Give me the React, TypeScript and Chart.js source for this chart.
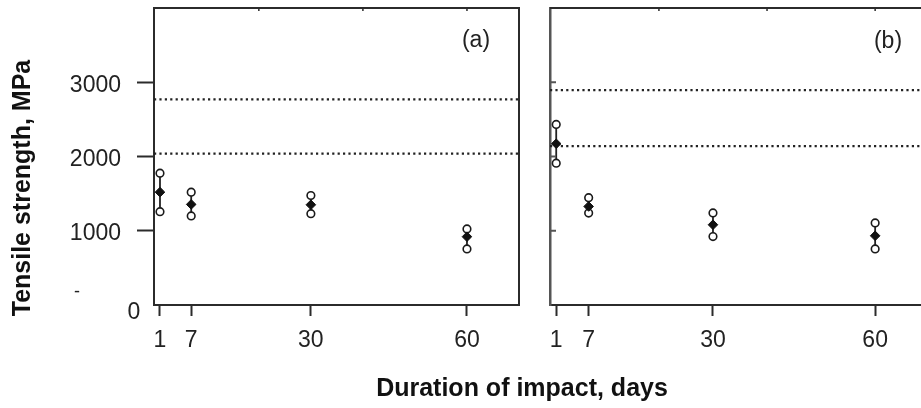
import React, { useEffect, useRef } from "react";
import { Chart, registerables } from "chart.js";

Chart.register(...registerables);

// ---------- data ----------
const days = [1, 7, 30, 60];

const upperA = [1775, 1520, 1475, 1025];
const meanA = [1520, 1355, 1350, 920];
const lowerA = [1257, 1200, 1230, 755];
const refA = [2770, 2040];

const upperB = [2432, 1445, 1240, 1105];
const meanB = [2172, 1327, 1081, 932];
const lowerB = [1910, 1238, 922, 755];
const refB = [2895, 2140];

const yTickValues = [1000, 2000, 3000];
const topTickValues = [20, 40, 60];
const X_MIN = -0.15;
const X_MAX = 70;
const Y_MIN = 0;
const Y_MAX = 4000;

const FONT = "'Liberation Sans', Arial, Helvetica, sans-serif";
const AXIS = "#2b2b2b";

function buildDatasets(upper: number[], mean: number[], lower: number[], ref: number[]) {
  const bars: { x: number; y: number | null }[] = [];
  days.forEach((d, i) => {
    bars.push({ x: d, y: lower[i] }, { x: d, y: upper[i] }, { x: d, y: null });
  });
  return [
    {
      label: "mean",
      data: days.map((d, i) => ({ x: d, y: mean[i] })),
      pointStyle: "rectRot",
      pointRadius: 4.8,
      backgroundColor: "#111",
      borderColor: "#111",
      borderWidth: 1,
      order: 0,
    },
    {
      label: "upper",
      data: days.map((d, i) => ({ x: d, y: upper[i] })),
      pointStyle: "circle",
      pointRadius: 3.8,
      backgroundColor: "#fff",
      borderColor: "#1a1a1a",
      borderWidth: 1.6,
      order: 1,
    },
    {
      label: "lower",
      data: days.map((d, i) => ({ x: d, y: lower[i] })),
      pointStyle: "circle",
      pointRadius: 3.8,
      backgroundColor: "#fff",
      borderColor: "#1a1a1a",
      borderWidth: 1.6,
      order: 1,
    },
    {
      label: "range",
      data: bars,
      showLine: true,
      spanGaps: false,
      borderColor: "#222",
      borderWidth: 1.8,
      pointRadius: 0,
      order: 2,
    },
    ...ref.map((v, k) => ({
      label: "ref" + k,
      data: [
        { x: X_MIN, y: v },
        { x: X_MAX, y: v },
      ],
      showLine: true,
      borderColor: "#222",
      borderWidth: 2.2,
      borderDash: [2.2, 3.2],
      pointRadius: 0,
      order: 3,
    })),
  ];
}

function xScaleConfig() {
  return {
    type: "linear",
    min: X_MIN,
    max: X_MAX,
    afterBuildTicks: (s: any) => {
      s.ticks = days.map((v) => ({ value: v }));
    },
    afterFit: (s: any) => {
      s.height = 103;
      s.paddingLeft = 0;
      s.paddingRight = 0;
    },
    grid: { drawOnChartArea: false, drawTicks: true, tickLength: 11, tickWidth: 2, color: AXIS },
    border: { display: true, width: 2, color: AXIS },
    ticks: {
      font: { family: FONT, size: 23 },
      color: "#222",
      padding: 11,
      maxRotation: 0,
      autoSkip: false,
      callback: (v: any) => String(v),
    },
  };
}

const panelAPlugin = {
  id: "panelA",
  afterDraw(chart: any) {
    const { ctx, chartArea } = chart;
    const xs = chart.scales.x;
    ctx.save();
    ctx.strokeStyle = AXIS;
    ctx.lineWidth = 2;
    ctx.beginPath();
    ctx.moveTo(chartArea.left, chartArea.top);
    ctx.lineTo(chartArea.right, chartArea.top);
    ctx.lineTo(chartArea.right, chartArea.bottom);
    ctx.stroke();
    ctx.lineWidth = 1.5;
    topTickValues.forEach((v) => {
      const px = xs.getPixelForValue(v);
      ctx.beginPath();
      ctx.moveTo(px, chartArea.top);
      ctx.lineTo(px, chartArea.top + 3);
      ctx.stroke();
    });
    ctx.fillStyle = "#222";
    ctx.textBaseline = "middle";
    ctx.textAlign = "center";
    ctx.font = `23px ${FONT}`;
    ctx.fillText("0", 134, 313);
    ctx.fillText("(a)", 476, 41);
    ctx.font = `18px ${FONT}`;
    ctx.fillText("-", 77, 292);
    ctx.fillStyle = "#111";
    ctx.font = `bold 25px ${FONT}`;
    ctx.fillText("Duration of impact, days", 522, 389);
    ctx.translate(23, 188);
    ctx.rotate(-Math.PI / 2);
    ctx.fillText("Tensile strength, MPa", 0, 0);
    ctx.restore();
  },
};

const panelBPlugin = {
  id: "panelB",
  afterDraw(chart: any) {
    const { ctx, chartArea } = chart;
    const xs = chart.scales.x;
    const ys = chart.scales.y;
    ctx.save();
    ctx.strokeStyle = AXIS;
    ctx.lineWidth = 2;
    ctx.beginPath();
    ctx.moveTo(chartArea.left, chartArea.top);
    ctx.lineTo(chartArea.right, chartArea.top);
    ctx.lineTo(chartArea.right, chartArea.bottom);
    ctx.stroke();
    ctx.lineWidth = 1.5;
    topTickValues.forEach((v) => {
      const px = xs.getPixelForValue(v);
      ctx.beginPath();
      ctx.moveTo(px, chartArea.top);
      ctx.lineTo(px, chartArea.top + 3);
      ctx.stroke();
    });
    ctx.strokeStyle = "#555";
    ctx.lineWidth = 2;
    yTickValues.forEach((v) => {
      const py = ys.getPixelForValue(v);
      ctx.beginPath();
      ctx.moveTo(chartArea.left, py);
      ctx.lineTo(chartArea.left + 6, py);
      ctx.stroke();
    });
    ctx.fillStyle = "#222";
    ctx.textBaseline = "middle";
    ctx.textAlign = "center";
    ctx.font = `23px ${FONT}`;
    ctx.fillText("(b)", 353, 42);
    ctx.restore();
  },
};

export default function App() {
  const refA1 = useRef<HTMLCanvasElement>(null);
  const refB1 = useRef<HTMLCanvasElement>(null);

  useEffect(() => {
    const chartA = new Chart(refA1.current as HTMLCanvasElement, {
      type: "scatter",
      data: { datasets: buildDatasets(upperA, meanA, lowerA, refA) as any },
      options: {
        responsive: false,
        animation: false,
        events: [],
        layout: { padding: { left: 0, top: 8, right: 402, bottom: 0 } },
        plugins: { legend: { display: false }, tooltip: { enabled: false } },
        scales: {
          x: xScaleConfig() as any,
          y: {
            min: Y_MIN,
            max: Y_MAX,
            afterBuildTicks: (s: any) => {
              s.ticks = yTickValues.map((v) => ({ value: v }));
            },
            afterFit: (s: any) => {
              s.width = 154;
              s.paddingTop = 0;
              s.paddingBottom = 0;
            },
            grid: { drawOnChartArea: false, drawTicks: true, tickLength: 17, tickWidth: 2, color: AXIS },
            border: { display: true, width: 2, color: AXIS },
            ticks: {
              font: { family: FONT, size: 23 },
              color: "#222",
              padding: 16,
              labelOffset: 3,
              callback: (v: any) => String(v),
            },
          } as any,
        },
      },
      plugins: [panelAPlugin],
    });

    const chartB = new Chart(refB1.current as HTMLCanvasElement, {
      type: "scatter",
      data: { datasets: buildDatasets(upperB, meanB, lowerB, refB) as any },
      options: {
        responsive: false,
        animation: false,
        events: [],
        layout: { padding: { left: 0, top: 8, right: 5, bottom: 0 } },
        plugins: { legend: { display: false }, tooltip: { enabled: false } },
        scales: {
          x: xScaleConfig() as any,
          y: {
            min: Y_MIN,
            max: Y_MAX,
            afterBuildTicks: (s: any) => {
              s.ticks = yTickValues.map((v) => ({ value: v }));
            },
            afterFit: (s: any) => {
              s.width = 15;
              s.paddingTop = 0;
              s.paddingBottom = 0;
            },
            grid: { drawOnChartArea: false, drawTicks: false },
            border: { display: true, width: 2.5, color: "#555" },
            ticks: { display: false },
          } as any,
        },
      },
      plugins: [panelBPlugin],
    });

    return () => {
      chartA.destroy();
      chartB.destroy();
    };
  }, []);

  return (
    <div
      style={{
        position: "fixed",
        left: 0,
        top: 0,
        width: 921,
        height: 408,
        overflow: "hidden",
        background: "#fff",
      }}
    >
      <canvas
        ref={refA1}
        width={921}
        height={408}
        style={{ position: "absolute", left: 0, top: 0, width: 921, height: 408 }}
      />
      <canvas
        ref={refB1}
        width={400}
        height={408}
        style={{ position: "absolute", left: 535, top: 0, width: 400, height: 408 }}
      />
    </div>
  );
}
